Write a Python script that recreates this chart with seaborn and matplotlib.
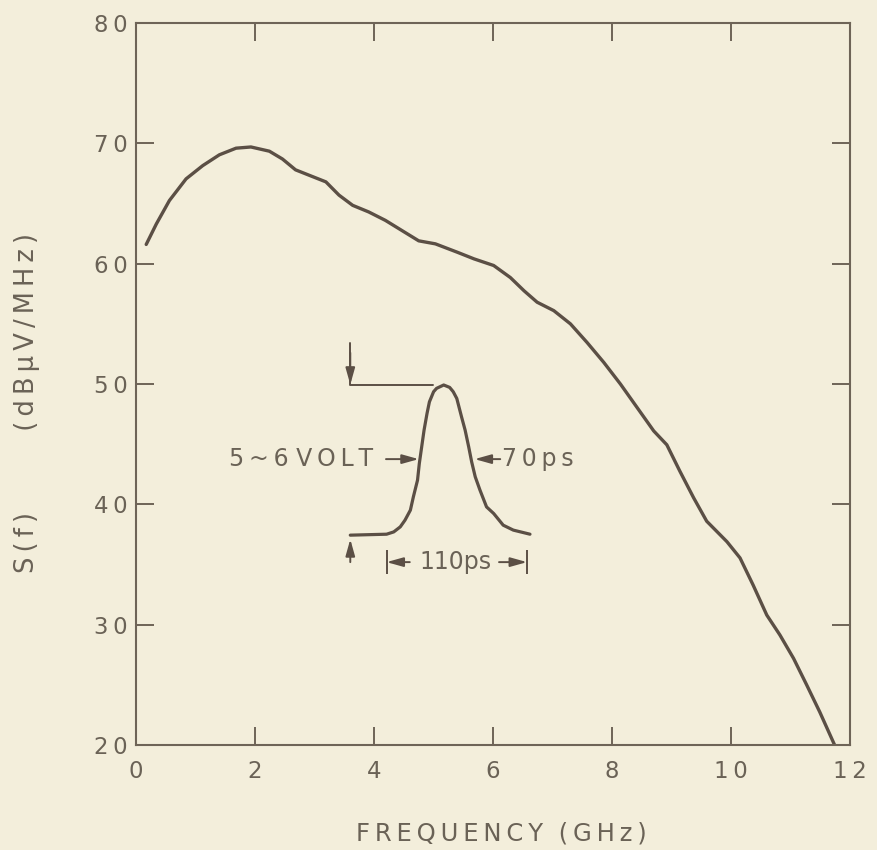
import matplotlib
matplotlib.use("Agg")
import matplotlib.pyplot as plt
import seaborn as sns
import pandas as pd

# spectrum S(f)
freq_ghz = [0.17, 0.34, 0.56, 0.84, 1.12, 1.40, 1.68, 1.93, 2.24, 2.46, 2.68,
            2.96, 3.19, 3.41, 3.64, 3.91, 4.19, 4.47, 4.75, 5.03, 5.40, 5.68,
            6.01, 6.29, 6.52, 6.74, 7.02, 7.30, 7.58, 7.86, 8.14, 8.42, 8.70,
            8.92, 9.14, 9.37, 9.59, 9.93, 10.15, 10.37, 10.60, 10.82, 11.05,
            11.27, 11.49, 11.74]
s_dbuv = [61.6, 63.3, 65.25, 67.05, 68.15, 69.05, 69.6, 69.7, 69.35, 68.7, 67.8,
          67.25, 66.8, 65.7, 64.85, 64.3, 63.6, 62.75, 61.9, 61.65, 60.95, 60.4,
          59.85, 58.85, 57.75, 56.8, 56.1, 55.0, 53.45, 51.8, 50.0, 48.05, 46.1,
          44.95, 42.75, 40.55, 38.6, 36.9, 35.55, 33.3, 30.8, 29.15, 27.2,
          25.0, 22.75, 20.0]

# inset pulse sketch (drawn in the same data space)
pulse_x = [3.60, 4.21, 4.33, 4.44, 4.52, 4.61, 4.66, 4.73, 4.76, 4.80, 4.84,
           4.89, 4.93, 5.00, 5.05, 5.17, 5.27, 5.33, 5.39, 5.47, 5.53, 5.59,
           5.64, 5.70, 5.78, 5.89, 6.01, 6.17, 6.34, 6.62]
pulse_y = [37.44, 37.52, 37.71, 38.13, 38.69, 39.52, 40.62, 42.01, 43.39,
           44.78, 46.17, 47.56, 48.52, 49.36, 49.64, 49.92, 49.72, 49.36,
           48.80, 47.27, 46.17, 44.78, 43.53, 42.29, 41.18, 39.79, 39.24,
           38.27, 37.86, 37.52]

xticks = [0, 2, 4, 6, 8, 10, 12]
yticks = [20, 30, 40, 50, 60, 70, 80]

bg = "#f3eedb"
ink = "#5b4f45"
axc = "#6e6457"
txt = "#6a6256"
TS = "\u2009"  # thin space used for the letter spacing


def spaced(s):
    return TS.join(s)


sns.set_style("ticks")
plt.rcParams["font.family"] = ["DejaVu Sans"]
plt.rcParams["text.color"] = txt

fig = plt.figure(figsize=(8.78, 8.5), dpi=100, facecolor=bg)
ax = fig.add_axes([0.155, 0.1235, 0.8132, 0.8494])
ax.set_facecolor(bg)

spec = pd.DataFrame({"f": freq_ghz, "s": s_dbuv})
sns.lineplot(data=spec, x="f", y="s", ax=ax, color=ink, lw=2.4,
             estimator=None, sort=False, solid_joinstyle="round")
pulse = pd.DataFrame({"x": pulse_x, "y": pulse_y})
sns.lineplot(data=pulse, x="x", y="y", ax=ax, color=ink, lw=2.3,
             estimator=None, sort=False, solid_joinstyle="round")

ax.set_xlim(0, 12)
ax.set_ylim(20, 80)
ax.set_xticks(xticks)
ax.set_yticks(yticks)
ax.set_xticklabels([spaced(str(t)) for t in xticks])
ax.set_yticklabels([spaced(str(t)) for t in yticks])
ax.set_xlabel("")
ax.set_ylabel("")

for sp in ax.spines.values():
    sp.set_color(axc)
    sp.set_linewidth(1.5)
ax.tick_params(direction="in", length=13, width=1.4, color=axc,
               labelsize=16.5, labelcolor=txt, top=True, right=True)
ax.tick_params(axis="x", pad=11)
ax.tick_params(axis="y", pad=6)

# pulse annotations
arr = dict(arrowstyle="-|>,head_length=1.0,head_width=0.28", color=ink,
           lw=1.4, shrinkA=0, shrinkB=0)
ax.plot([3.60, 3.60, 4.99], [53.4, 49.9, 49.9], color=ink, lw=1.4)
ax.annotate("", xy=(3.60, 49.95), xytext=(3.60, 52.6), arrowprops=arr)
ax.annotate("", xy=(3.60, 37.1), xytext=(3.60, 35.2), arrowprops=arr)

ax.text(3.98, 43.76, spaced("5~6") + " " + spaced("VOLT"), ha="right",
        va="center", fontsize=17)
ax.annotate("", xy=(4.75, 43.76), xytext=(4.20, 43.76), arrowprops=arr)
ax.annotate("", xy=(5.69, 43.76), xytext=(6.12, 43.76), arrowprops=arr)
ax.text(6.15, 43.76, spaced("70ps"), ha="left", va="center", fontsize=17)

ax.vlines([4.21, 6.57], 34.2, 36.2, color=ink, lw=1.4)
ax.annotate("", xy=(4.21, 35.2), xytext=(4.60, 35.2), arrowprops=arr)
ax.annotate("", xy=(6.57, 35.2), xytext=(6.10, 35.2), arrowprops=arr)
ax.text(5.36, 35.2, "110ps", ha="center", va="center", fontsize=17)

fig.text(501 / 878, 1 - 833 / 850, spaced("FREQUENCY") + "  " + spaced("(GHz)"),
         ha="center", va="center", fontsize=17.5, color=txt)
fig.text(27 / 878, 1 - 403 / 850,
         spaced("S(f)") + "          " + spaced("(dBµV/MHz)"),
         ha="center", va="center", rotation=90, fontsize=18.5, color=txt)

fig.savefig("out.png", dpi=100, facecolor=bg)
